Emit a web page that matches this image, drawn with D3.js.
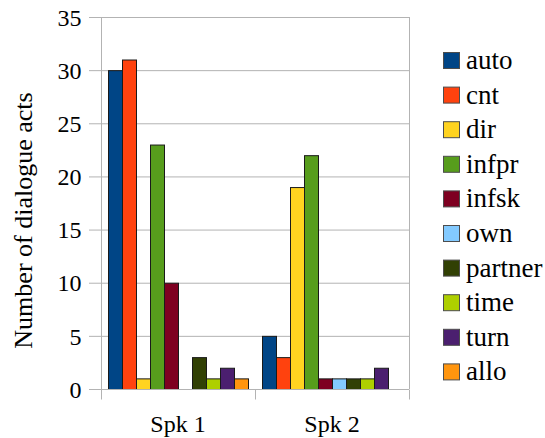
<!DOCTYPE html>
<html>
<head>
<meta charset="utf-8">
<script src="https://cdn.jsdelivr.net/npm/d3@7"></script>
<style>
  html, body { margin: 0; padding: 0; background: #fff; }
  svg { display: block; }
</style>
</head>
<body>
<svg id="chart" width="545" height="438"></svg>
<script>
// Dialogue act counts per speaker
const speakers = ["Spk 1", "Spk 2"];
const actTypes = ["auto", "cnt", "dir", "infpr", "infsk", "own", "partner", "time", "turn", "allo"];
const spk1Counts = [30, 31, 1, 23, 10, 0, 3, 1, 2, 1];
const spk2Counts = [5, 3, 19, 22, 1, 1, 1, 1, 2, 0];
const actColors = ["#004586", "#ff420e", "#ffd320", "#579d1c", "#7e0021", "#83caff", "#314004", "#aecf00", "#4b1f6f", "#ff950e"];
const yTicks = [0, 5, 10, 15, 20, 25, 30, 35];
const yTitle = "Number of dialogue acts";

const countsBySpeaker = [spk1Counts, spk2Counts];
const FONT = "'Liberation Serif'";

const svg = d3.select("#chart");
const plot = { left: 101, right: 409, top: 17, bottom: 389 };

const y = d3.scaleLinear().domain([0, 35]).range([plot.bottom, plot.top]);
const x0 = d3.scaleBand().domain(speakers).range([plot.left, plot.right]).padding(0);
const x1 = d3.scaleBand().domain(actTypes).range([0, x0.bandwidth()]).paddingInner(0).paddingOuter(0.5);
const color = d3.scaleOrdinal().domain(actTypes).range(actColors);

const gridColor = "#b3b3b3";

// horizontal gridlines with short tick stubs on the left
svg.append("g")
  .selectAll("line")
  .data(yTicks)
  .join("line")
  .attr("x1", plot.left - 12)
  .attr("x2", plot.right)
  .attr("y1", d => y(d) + 0.5)
  .attr("y2", d => y(d) + 0.5)
  .attr("stroke", gridColor)
  .attr("stroke-width", 1);

// right border of the plot area
svg.append("line")
  .attr("x1", plot.right + 0.5).attr("x2", plot.right + 0.5)
  .attr("y1", plot.top).attr("y2", plot.bottom)
  .attr("stroke", gridColor);

// bars
const groups = svg.append("g")
  .selectAll("g")
  .data(speakers.map((s, i) => ({ speaker: s, counts: countsBySpeaker[i] })))
  .join("g")
  .attr("transform", d => `translate(${x0(d.speaker)},0)`);

groups.selectAll("rect")
  .data(d => d.counts.map((v, j) => ({ key: actTypes[j], value: v })).filter(e => e.value > 0))
  .join("rect")
  .attr("x", d => x1(d.key) + 0.5)
  .attr("y", d => y(d.value) + 0.5)
  .attr("width", x1.bandwidth())
  .attr("height", d => y(0) - y(d.value))
  .attr("fill", d => color(d.key))
  .attr("stroke", "#1a1a1a")
  .attr("stroke-width", 1);

// y axis
const yAxis = svg.append("g")
  .attr("transform", `translate(${plot.left + 0.5},0)`)
  .call(d3.axisLeft(y).tickValues(yTicks).tickSize(0).tickPadding(20).tickFormat(d3.format("d")));
yAxis.select(".domain").attr("stroke", gridColor).attr("d", `M0,${plot.top}V${plot.bottom}`);
yAxis.selectAll("text")
  .style("font-family", FONT).style("font-size", "24px")
  .attr("dy", "0.34em");

// x axis
const xAxis = svg.append("g")
  .attr("transform", `translate(0,${plot.bottom + 0.5})`)
  .call(d3.axisBottom(x0).tickSize(0).tickPadding(0));
xAxis.select(".domain").attr("stroke", gridColor).attr("d", `M${plot.left},0H${plot.right}`);
xAxis.selectAll("text")
  .style("font-family", FONT).style("font-size", "24px")
  .attr("y", 42).attr("dy", 0);
// boundary ticks between categories
xAxis.append("g")
  .selectAll("line")
  .data([plot.left, (plot.left + plot.right) / 2, plot.right])
  .join("line")
  .attr("x1", d => d + 0.5).attr("x2", d => d + 0.5)
  .attr("y1", 0).attr("y2", 10)
  .attr("stroke", gridColor);

// y axis title
svg.append("text")
  .attr("transform", `translate(32,${(93 + 348) / 2}) rotate(-90)`)
  .attr("text-anchor", "middle")
  .style("font-family", FONT)
  .style("font-size", "26px")
  .text(yTitle);

// legend
const legend = svg.append("g").attr("transform", "translate(443,52)");
const rowH = 34.6;
const items = legend.selectAll("g")
  .data(actTypes)
  .join("g")
  .attr("transform", (d, i) => `translate(0,${i * rowH})`);
items.append("rect")
  .attr("x", 0.5).attr("y", 0.5)
  .attr("width", 16).attr("height", 16)
  .attr("fill", d => color(d))
  .attr("stroke", "#4d4d4d");
items.append("text")
  .attr("x", 23)
  .attr("y", 17)
  .style("font-family", FONT)
  .style("font-size", "27px")
  .text(d => d);
</script>
</body>
</html>
